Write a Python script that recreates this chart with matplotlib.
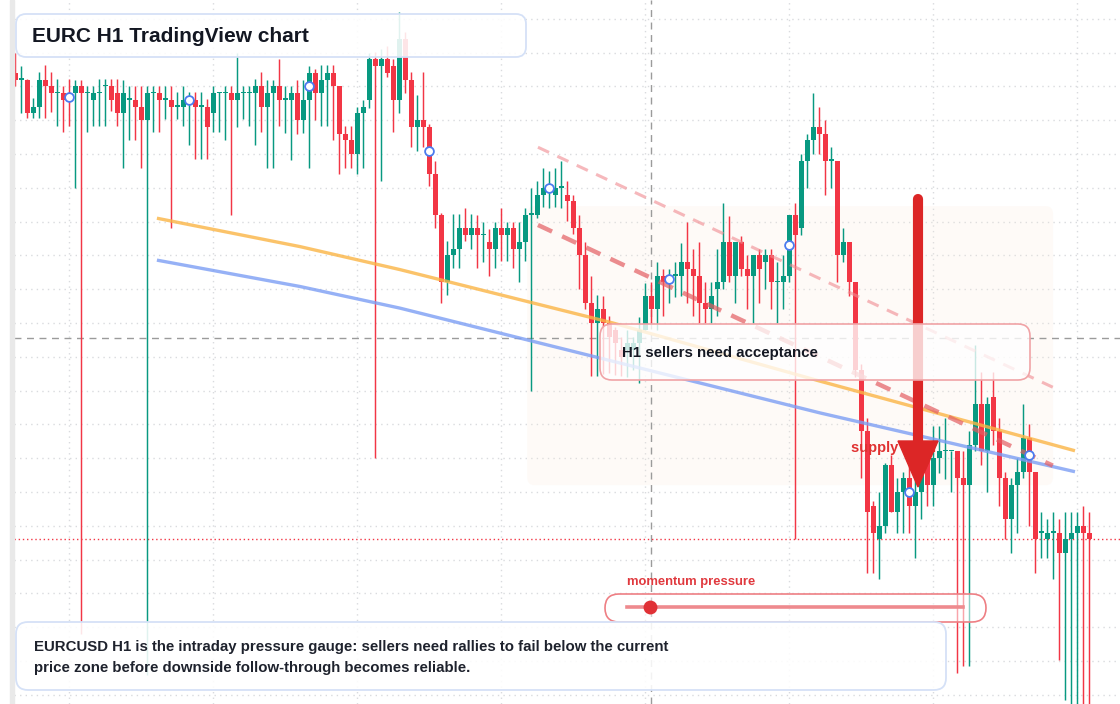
import numpy as np
import matplotlib.pyplot as plt
from matplotlib.patches import FancyBboxPatch, Rectangle, Polygon
from matplotlib.lines import Line2D
from matplotlib.transforms import Affine2D

plt.rcParams['font.family'] = ['Liberation Sans', 'DejaVu Sans']

# prices are stored in ticks of 0.0002 above 1.1600 (EURCUSD H1)
BASE = 1.1600
TICK = 0.0002

opens = [72, 71, 71, 66, 67, 71, 70, 69, 69, 69, 69, 70, 69, 68, 69, 70, 70, 69, 66, 68,
         68, 67, 65, 69, 69, 68, 68, 67, 67, 68, 68, 67, 67, 66, 69, 69, 69, 68, 69, 69,
         69, 70, 67, 69, 70, 68, 68, 69, 65, 68, 72, 69, 71, 72, 70, 63, 62, 60, 66, 68,
         74, 73, 74, 73, 68, 77, 71, 64, 65, 64, 57, 51, 41, 45, 46, 49, 48, 49, 48, 47,
         46, 49, 48, 49, 46, 47, 51, 51, 54, 55, 54, 55, 54, 53, 49, 45, 38, 35, 37, 35,
         34, 31, 31, 31, 32, 34, 39, 37, 42, 41, 42, 42, 44, 43, 42, 38, 37, 40, 41, 47,
         42, 47, 43, 42, 45, 44, 45, 41, 41, 42, 51, 49, 59, 62, 64, 63, 59, 59, 45, 47,
         41, 28, 19, 8, 3, 5, 14, 7, 10, 12, 8, 10, 15, 11, 15, 16, 16, 16, 12, 11,
         17, 23, 16, 24, 19, 12, 6, 11, 13, 18, 13, 4, 3, 4, 4, 1, 3, 4, 5, 4]
highs = [75, 73, 71.1, 68.3, 72.2, 73.2, 72.2, 71.1, 70.1, 71.1,
         71, 71, 70.1, 70.1, 71.1, 71.1, 71.1, 71.1, 71, 70.1,
         70.1, 70, 70, 70.1, 70.1, 70.1, 70, 69.2, 70.1, 69.2,
         69.2, 69.2, 68.1, 70.1, 69.2, 70.1, 70, 75, 70.1, 70.1,
         71.1, 72.2, 71, 71, 74.1, 70, 70, 71, 71, 73,
         72.5, 73.1, 73.1, 73.1, 70, 64.1, 64.1, 67, 68, 75,
         75.1, 75.6, 76, 74, 81, 78, 72.1, 68.7, 72.1, 64.5,
         59, 51.2, 47.1, 51.1, 51.1, 52, 51.1, 51, 49.9, 48.9,
         49.9, 52, 49.9, 49.9, 49.9, 52, 55, 56, 57.9, 57.5,
         57.9, 59, 56, 54, 51, 47, 42, 39.1, 39, 36,
         34.4, 33, 34, 33, 35.9, 40.9, 41, 44, 43, 43,
         44, 46.9, 49.9, 46, 47, 41, 41, 46, 52.8, 50.9,
         47, 47.9, 45, 45, 46, 46, 46, 44, 45, 51,
         52.8, 60, 63, 69, 67, 65, 61, 59, 49, 47,
         41, 29, 21, 8.7, 10, 14.3, 15.5, 12, 13, 13.9,
         14.6, 15.5, 16.5, 19.7, 19.7, 21, 16, 16, 16, 19,
         31.7, 27.8, 24, 27.8, 21, 13, 12, 15, 23, 20,
         13, 7, 6, 7, 6, 7, 7, 7, 8, 7]
lows = [70, 66, 65.3, 65.3, 65.3, 65.3, 66.2, 64.2, 63.2, 64.2,
        55, -11, 63.2, 64.2, 64.2, 64.2, 66.3, 64.2, 58, 62.1,
        62.1, 58, -17, 63.2, 63.2, 65.2, 49, 65.2, 64.2, 61.3,
        59.2, 59.2, 59.2, 63.2, 63.2, 62.1, 51, 64, 65.2, 64.2,
        61.3, 63.2, 58, 58, 64.1, 63.1, 59.1, 63, 63.1, 58,
        65, 64.1, 64.1, 62.1, 57.1, 58, 58, 57.1, 58, 66.8,
        15, 56, 71.4, 63.2, 66, 69, 61.1, 60.4, 61.1, 55.3,
        49.1, 38, 39.1, 43.2, 43.2, 47.1, 46, 43.2, 44, 42,
        43.2, 44.2, 44.2, 43.2, 41.1, 44.2, 25, 50.5, 52.1, 52,
        52.1, 52, 50.1, 48.2, 40, 37, 27.1, 27.1, 27.5, 27.6,
        27.3, 27.1, 27, 28, 26.1, 33.9, 35, 34, 36, 38,
        38.8, 39, 38, 36.1, 35, 35, 35, 36, 40, 41,
        38, 42, 37, 35, 38, 40, 37, 35, 37, 41,
        3, 48, 55, 60, 60, 54, 55, 41, 44, 39,
        27, 12, -2, -2, -2.8, 4, 7, 4, 4, 4,
        0.3, 6, 8, 8, 12.8, 11.9, 10, -16.8, -15.8, -15.8,
        16, 14, 10, 17, 8, 3, 1, 4, 12, 5,
        -2, 0.3, 0.3, -2.8, -14.8, -20.7, -21.5, -21.5, -21.5, -21.5]
closes = [71, 71, 66, 67, 71, 70, 69, 69, 68, 68, 70, 69, 69, 69, 69, 70, 68, 66, 69, 68,
          67, 65, 69, 69, 68, 68, 67, 67, 68, 68, 67, 67, 64, 69, 69, 69, 68, 69, 69, 69,
          70, 67, 69, 70, 68, 68, 69, 65, 68, 72, 69, 71, 72, 70, 63, 62, 60, 66, 67, 74,
          73, 74, 72, 68, 77, 71, 64, 65, 64, 57, 51, 41, 45, 46, 49, 48, 49, 48, 48, 46,
          49, 48, 49, 46, 47, 51, 51, 54, 55, 55, 55, 55, 53, 49, 45, 38, 35, 37, 35, 33,
          32, 30, 32, 32, 34, 39, 37, 42, 41, 42, 42, 44, 43, 42, 38, 37, 39, 41, 47, 42,
          47, 43, 42, 45, 43, 45, 41, 41, 42, 51, 48, 59, 62, 64, 63, 59, 59, 45, 47, 41,
          28, 19, 7, 4, 5, 14, 7, 10, 12, 8, 10, 13, 11, 15, 16, 16, 16, 12, 11, 17,
          23, 16, 23, 19, 12, 6, 11, 13, 18, 13, 3, 4, 4, 4, 1, 3, 4, 5, 4, 3]

# moving averages (bar index, ticks)
ema_fast_x = [23.6, 47.45, 64.1, 99.6, 134.1, 176.6]
ema_fast_y = [50.5, 46.3, 42.9, 35.0, 26.4, 16.1]
ema_slow_x = [23.6, 47.45, 64.1, 97.5, 134.1, 176.6]
ema_slow_y = [44.3, 40.4, 37.2, 29.8, 21.7, 13.0]

# descending channel
chan_x = [87.1, 172.9]
chan_upper = [61.0, 25.5]
chan_lower = [49.5, 13.9]

marker_idx = list(range(9, 180, 20))
crosshair_bar, crosshair_level = 105.95, 32.78

GREEN = '#089981'
RED = '#f23645'

W, H = 1120, 704
fig = plt.figure(figsize=(W / 100, H / 100), dpi=100)
ax = fig.add_axes([0, 0, 1, 1])
ax.set_axis_off()

def p(t):
    return BASE + TICK * np.asarray(t, dtype=float)

ax.set_xlim(-2.55, 184.1)
ax.set_ylim(p(-21.36), p(82.78))

# pixel helper for overlay widgets (y measured from the top)
px = Affine2D().scale(1 / W, -1 / H).translate(0, 1) + fig.transFigure

# grid
x_left = -2.55 + 14 / 6
for lvl in range(-20, 81, 5):
    ax.hlines(p(lvl), x_left, 184.1, colors='#d9dbde', linestyles=(0, (1, 3)), lw=1, zorder=0)
for b in range(9, 184, 24):
    ax.vlines(b, p(-21.36), p(82.78), colors='#d9dbde', linestyles=(0, (1, 3)), lw=1, zorder=0)

# left strip
fig.patches.append(Rectangle((10, 0), 4, H, transform=px, color='#e9e9e9', zorder=0))

# light zone
ax.add_patch(FancyBboxPatch((85.3, p(11.0)), 172.95 - 85.3, p(52.3) - p(11.0),
                            boxstyle='round,pad=0,rounding_size=1.2', mutation_aspect=TICK,
                            facecolor='#fbeadb', edgecolor='none', alpha=0.2, zorder=1))

# crosshair
ax.axhline(p(crosshair_level), xmin=14 / W, color='#9b9b9b', ls=(0, (5, 4)), lw=1, zorder=2)
ax.axvline(crosshair_bar, color='#9b9b9b', ls=(0, (5, 4)), lw=1, zorder=2)

# candles
o, h, l, c = map(np.asarray, (opens, highs, lows, closes))
idx = np.arange(len(o))
cols = np.where(c >= o, GREEN, RED)
ax.vlines(idx, p(l), p(h), colors=cols, lw=1.05, zorder=3)
body_lo = np.minimum(o, c)
body_h = np.maximum(np.abs(c - o), 0.22)
ax.bar(idx, body_h * TICK, bottom=p(body_lo), width=0.8, color=cols, linewidth=0, zorder=3)

# last price line
ax.axhline(p(closes[-1]), xmin=14 / W, color=RED, ls=(0, (1, 2)), lw=1, zorder=2)

# indicators
ax.plot(ema_fast_x, p(ema_fast_y), color='#fbb545', lw=2.4, alpha=0.8, zorder=4,
        solid_capstyle='butt', solid_joinstyle='round')
ax.plot(ema_slow_x, p(ema_slow_y), color='#7c9ef4', lw=2.4, alpha=0.8, zorder=4,
        solid_capstyle='butt', solid_joinstyle='round')
ax.plot(chan_x, p(chan_upper), color='#f08a90', lw=2.2, alpha=0.6, ls=(0, (4, 3)), zorder=4)
ax.plot(chan_x, p(chan_lower), color='#e35d62', lw=3.2, alpha=0.7, ls=(0, (3.5, 2.5)), zorder=4)

mk = np.array(marker_idx)
ax.scatter(mk, p((o[mk] + c[mk]) / 2), s=40, facecolor='white', edgecolor='#4b7bef',
           lw=1.3, zorder=5)

# supply label + arrow
fig.text(851, 448, 'supply shelf', transform=px, color='#e03131', fontsize=10.5,
         fontweight='bold', va='center', ha='left', zorder=6)
fig.lines.append(Line2D([918, 918], [199, 446], transform=px, color='#dc2626', lw=7.3,
                        solid_capstyle='round', zorder=7))
fig.patches.append(Polygon([[898, 441], [938, 441], [918, 487]], closed=True, transform=px,
                           color='#dc2626', zorder=7))

# title box
fig.patches.append(FancyBboxPatch((16, 14), 510, 43, boxstyle='round,pad=0,rounding_size=10',
                                  transform=px, facecolor='white', alpha=0.88,
                                  edgecolor='none', zorder=8))
fig.patches.append(FancyBboxPatch((16, 14), 510, 43, boxstyle='round,pad=0,rounding_size=10',
                                  transform=px, facecolor='none', edgecolor='#d5e1f7',
                                  lw=1.3, zorder=8))
fig.text(32, 36, 'EURC H1 TradingView chart', transform=px, fontsize=15, fontweight='bold',
         color='#131722', va='center', zorder=9)

# acceptance box
fig.patches.append(FancyBboxPatch((600, 324), 430, 56, boxstyle='round,pad=0,rounding_size=12',
                                  transform=px, facecolor='white', alpha=0.78,
                                  edgecolor='none', zorder=8))
fig.patches.append(FancyBboxPatch((600, 324), 430, 56, boxstyle='round,pad=0,rounding_size=12',
                                  transform=px, facecolor='none', edgecolor='#f0a3a6',
                                  lw=1.2, zorder=8))
fig.text(622, 353, 'H1 sellers need acceptance', transform=px, fontsize=10.8,
         fontweight='bold', color='#131722', va='center', zorder=9)

# momentum widget
fig.text(627, 582, 'momentum pressure', transform=px, fontsize=9.4, fontweight='bold',
         color='#e0393e', va='center', zorder=9)
fig.patches.append(FancyBboxPatch((605, 594), 381, 28, boxstyle='round,pad=0,rounding_size=14',
                                  transform=px, facecolor='white', alpha=0.55,
                                  edgecolor='none', zorder=8))
fig.patches.append(FancyBboxPatch((605, 594), 381, 28, boxstyle='round,pad=0,rounding_size=14',
                                  transform=px, facecolor='none', edgecolor='#ee7f84',
                                  lw=1.2, zorder=8))
fig.lines.append(Line2D([627, 963], [607, 607], transform=px, color='#ee8a8e', lw=2.6,
                        zorder=9))
fig.lines.append(Line2D([650], [607], transform=px, marker='o', ms=10, color='#e03136',
                        mec='none', zorder=10))

# bottom note
fig.patches.append(FancyBboxPatch((16, 622), 930, 68, boxstyle='round,pad=0,rounding_size=12',
                                  transform=px, facecolor='white', alpha=0.88,
                                  edgecolor='none', zorder=8))
fig.patches.append(FancyBboxPatch((16, 622), 930, 68, boxstyle='round,pad=0,rounding_size=12',
                                  transform=px, facecolor='none', edgecolor='#d5e1f7',
                                  lw=1.3, zorder=8))
fig.text(34, 647, 'EURCUSD H1 is the intraday pressure gauge: sellers need rallies to fail '
         'below the current', transform=px, fontsize=10.85, fontweight='bold',
         color='#1e222d', va='center', zorder=9)
fig.text(34, 668, 'price zone before downside follow-through becomes reliable.', transform=px,
         fontsize=10.85, fontweight='bold', color='#1e222d', va='center', zorder=9)

fig.savefig('out.png', dpi=100, facecolor='white')
